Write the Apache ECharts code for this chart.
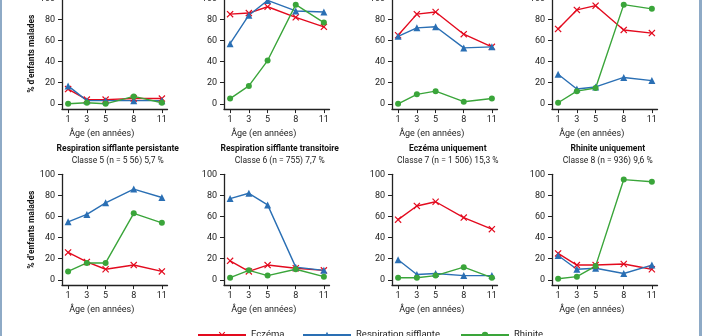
<!DOCTYPE html>
<html>
<head>
<meta charset="utf-8">
<script src="https://cdn.jsdelivr.net/npm/echarts@6/dist/echarts.min.js"></script>
<style>
html,body{margin:0;padding:0;background:#fff;}
#wrap{position:relative;width:702px;height:336px;overflow:hidden;}
#c{position:absolute;left:0;top:0;width:702px;height:336px;}
#bl{position:absolute;left:0;top:0;width:2px;height:336px;background:#8eaac6;}
#br{position:absolute;right:0;top:0;width:3px;height:336px;background:#8eaac6;}
</style>
</head>
<body>
<div id="wrap"><div id="c"></div><div id="bl"></div><div id="br"></div></div>
<script>
const ages = [1, 3, 5, 8, 11];
const yTicks = [0, 20, 40, 60, 80, 100];
const seriesNames = ['Eczéma', 'Respiration sifflante', 'Rhinite'];
const titles = ['', '', '', '', 'Respiration sifflante persistante', 'Respiration sifflante transitoire', 'Eczéma uniquement', 'Rhinite uniquement'];
const subtitles = ['', '', '', '', 'Classe 5 (n = 5 56) 5,7 %', 'Classe 6 (n = 755) 7,7 %', 'Classe 7 (n = 1 506) 15,3 %', 'Classe 8 (n = 936) 9,6 %'];
const eczema = [
  [14, 4, 4, 5, 5],
  [85, 86, 92, 82, 73],
  [65, 85, 87, 66, 54],
  [71, 89, 93, 70, 67],
  [26, 17, 10, 14, 8],
  [18, 8, 14, 11, 9],
  [57, 70, 74, 59, 48],
  [25, 14, 14, 15, 10]
];
const wheeze = [
  [17, 3, 3, 3, 3],
  [57, 84, 98, 88, 87],
  [64, 72, 73, 53, 54],
  [28, 14, 16, 25, 22],
  [55, 62, 73, 86, 78],
  [77, 82, 71, 12, 9],
  [19, 5, 6, 4, 4],
  [23, 10, 11, 6, 14]
];
const rhinitis = [
  [0, 1, 0, 7, 1],
  [5, 17, 41, 94, 77],
  [0, 9, 12, 2, 5],
  [1, 12, 15, 94, 90],
  [8, 16, 16, 63, 54],
  [2, 9, 4, 10, 3],
  [2, 2, 4, 12, 2],
  [1, 3, 13, 95, 93]
];

const FONT = 'Roboto';
const colors = ['#e30a1e', '#2a6fb4', '#3aa53a'];
const xSymbol = 'path://M0,1.2L1.2,0L5,3.8L8.8,0L10,1.2L6.2,5L10,8.8L8.8,10L5,6.2L1.2,10L0,8.8L3.8,5Z';
const symbols = [xSymbol, 'triangle', 'circle'];
const symbolSizes = [7, 7, 6];
const lefts = [62, 224, 392, 552];
const tops = [-1.7, 174.3];
const W = 105.5, H = 110.8;

const grids = [], xAxes = [], yAxes = [], series = [], titleArr = [];
for (let i = 0; i < 8; i++) {
  const col = i % 4, row = Math.floor(i / 4);
  grids.push({left: lefts[col], top: tops[row], width: W, height: H, containLabel: false, outerBoundsMode: 'none'});
  xAxes.push({
    type: 'value', gridIndex: i, min: 0.35, max: 11.6,
    axisLine: {show: true, onZero: false, lineStyle: {color: '#222', width: 1.3}},
    axisTick: {show: true, customValues: ages, length: 4, lineStyle: {color: '#222', width: 1}},
    axisLabel: {customValues: ages, color: '#222', fontFamily: FONT, fontSize: 9, margin: 6},
    splitLine: {show: false},
    name: 'Âge (en années)', nameLocation: 'middle', nameGap: 20,
    nameTextStyle: {color: '#222', fontFamily: FONT, fontSize: 9, padding: [0, 26, 0, 0]}
  });
  yAxes.push({
    type: 'value', gridIndex: i, min: -5, max: 100,
    axisLine: {show: true, onZero: false, lineStyle: {color: '#222', width: 1.3}},
    axisTick: {show: true, customValues: yTicks, length: 4, lineStyle: {color: '#222', width: 1}},
    axisLabel: {customValues: yTicks, color: '#222', fontFamily: FONT, fontSize: 9, margin: 7},
    splitLine: {show: false},
    name: col === 0 ? '% d\u2019enfants malades' : '', nameLocation: 'middle', nameGap: 25, nameRotate: 90,
    nameTextStyle: {color: '#111', fontFamily: FONT, fontSize: 8.5, fontWeight: 'bold'}
  });
  const sets = [eczema[i], wheeze[i], rhinitis[i]];
  for (let s = 0; s < 3; s++) {
    series.push({
      type: 'line', name: seriesNames[s], xAxisIndex: i, yAxisIndex: i,
      data: ages.map((a, k) => [a, sets[s][k]]),
      symbol: symbols[s], symbolSize: symbolSizes[s], showAllSymbol: true,
      lineStyle: {color: colors[s], width: 1.4},
      itemStyle: {color: colors[s]},
      emphasis: {disabled: true}, animation: false
    });
  }
  if (titles[i]) {
    titleArr.push({
      text: titles[i], subtext: subtitles[i],
      left: lefts[col] + W / 2 + 3, top: tops[row] - 30, textAlign: 'center', itemGap: 3, padding: 0,
      textStyle: {fontFamily: FONT, fontSize: 8.5, fontWeight: 'bold', color: '#111'},
      subtextStyle: {fontFamily: FONT, fontSize: 8.5, color: '#222'}
    });
  }
}

const legendLefts = [192, 297, 455];
const legends = seriesNames.map((n, s) => ({
  data: [n], left: legendLefts[s], top: 325, itemWidth: 48, itemHeight: 8, itemGap: 8,
  textStyle: {fontFamily: FONT, fontSize: 9.5, color: '#222'}
}));

const chart = echarts.init(document.getElementById('c'), null, {renderer: 'canvas'});
chart.setOption({
  animation: false,
  title: titleArr,
  legend: legends,
  grid: grids, xAxis: xAxes, yAxis: yAxes, series: series
});
</script>
</body>
</html>
